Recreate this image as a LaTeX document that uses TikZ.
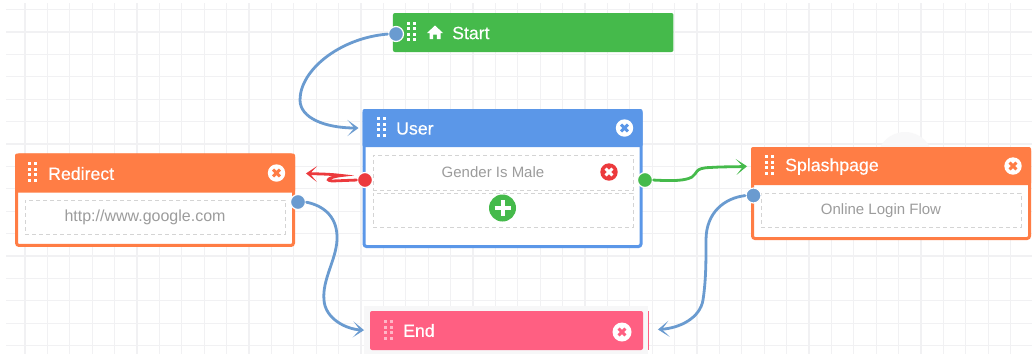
\documentclass[tikz,border=0pt]{standalone}
\usepackage{fontspec}
\setmainfont{Liberation Sans}
\newfontfamily\headfont[FakeBold=0.35]{Liberation Sans}
\usetikzlibrary{arrows.meta}
\definecolor{gridc}{HTML}{F1F1F3}
\definecolor{startc}{HTML}{45BA4B}
\definecolor{userc}{HTML}{5B97E8}
\definecolor{orangec}{HTML}{FF7D45}
\definecolor{endc}{HTML}{FF5F82}
\definecolor{linkc}{HTML}{6A9BD0}
\definecolor{redc}{HTML}{EC3A3D}
\definecolor{dashc}{HTML}{D4D4D4}
\definecolor{textc}{HTML}{9C9C9C}
\tikzset{
  bodybox/.style={draw=#1,fill=white,line width=3pt,rounded corners=2.5pt,inner sep=0pt,outer sep=0pt},
  headbox/.style={fill=#1,rounded corners=2pt,inner sep=0pt,outer sep=0pt},
  slotbox/.style={draw=dashc,dashed,dash pattern=on 4pt off 3pt,line width=1pt,inner sep=0pt,outer sep=0pt,minimum width=260pt},
  title/.style={text=white,font=\headfont\fontsize{17.7}{20}\selectfont,inner sep=0pt,anchor=west},
  content/.style={text=textc,font=\fontsize{15}{18}\selectfont,inner sep=0pt},
  port/.style={circle,fill=#1,draw=white,line width=1.2pt,minimum size=15pt,inner sep=0pt,outer sep=0pt},
  link/.style={draw=#1,line width=2.8pt,line cap=round,-{Stealth[inset=7pt,length=11pt,width=16pt]}}
}
\newcommand{\gripdots}[3]{%
  \foreach \gx in {0,6}\foreach \gy in {0,5.6,11.2,16.8}
    \fill[#3] ({#1+\gx},{#2+\gy}) rectangle ++(3,3);}
\newcommand{\closeicon}[5][8.7]{%
  \fill[#4] (#2,#3) circle (#1pt);
  \draw[#5,line width=3pt] ({#2-3.4},{#3-3.4}) -- ({#2+3.4},{#3+3.4}) ({#2-3.4},{#3+3.4}) -- ({#2+3.4},{#3-3.4});}
\begin{document}
\begin{tikzpicture}[x=1pt,y=-1pt]
\useasboundingbox (0,0) rectangle (1032,354);
\fill[white] (0,0) rectangle (1032,354);
% grid
\foreach \k in {1,...,45} \draw[gridc,line width=1.1pt] ({2.6+22.4*\k},3) -- ({2.6+22.4*\k},354);
\foreach \k in {0,...,15} \draw[gridc,line width=1.1pt] (6,{9.6+22.4*\k}) -- (1032,{9.6+22.4*\k});
\fill[gridc!50] (905,160) circle (28pt);
% Start
\node[headbox=startc,minimum width=280.5pt,minimum height=39pt] (startnode) at (533.2,32.5) {};
\gripdots{406.5}{21.5}{white}
\fill[white] (427,33) -- (435,25.5) -- (443,33) -- (440.5,33) -- (440.5,39) -- (436.8,39) -- (436.8,34.5) -- (433.2,34.5) -- (433.2,39) -- (429.5,39) -- (429.5,33) -- cycle;
\node[title] (starttext) at (452,33) {Start};
% User
\node[bodybox=userc,minimum width=277pt,minimum height=136pt] (userbody) at (502.5,178.5) {};
\node[headbox=userc,minimum width=280pt,minimum height=38pt] (userhead) at (502.5,128) {};
\gripdots{376.5}{117}{white}
\node[title] (usertext) at (396,128.5) {User};
\closeicon{624.5}{128}{white}{userc}
\node[slotbox,minimum height=35pt] (genderslot) at (503,172.5) {};
\node[slotbox,minimum height=34pt] (addslot) at (503,210) {};
\node[content] (gendertext) at (493,172.5) {Gender Is Male};
\closeicon{609}{172}{redc}{white}
\fill[startc] (502.5,208) circle (13.5pt);
\draw[white,line width=4pt] (494.5,208) -- (510.5,208) (502.5,200) -- (502.5,216);
% Redirect
\node[bodybox=orangec,minimum width=277pt,minimum height=90.5pt] (redirbody) at (155,200.2) {};
\node[headbox=orangec,minimum width=280pt,minimum height=39pt] (redirhead) at (155,173) {};
\gripdots{27.5}{162}{white}
\node[title] (redirtext) at (48,173.5) {Redirect};
\closeicon{276.5}{173}{white}{orangec}
\node[slotbox,minimum height=34pt] (redirslot) at (155,217) {};
\node[content,font=\fontsize{16}{18}\selectfont] (redirurl) at (145,217) {http://www.google.com};
% Splashpage
\node[bodybox=orangec,minimum width=277pt,minimum height=90pt] (splashbody) at (891,193.5) {};
\node[headbox=orangec,minimum width=280pt,minimum height=38pt] (splashhead) at (891,166) {};
\gripdots{764.5}{155}{white}
\node[title] (splashtext) at (785,166.5) {Splashpage};
\closeicon{1013}{166}{white}{orangec}
\node[slotbox,minimum height=34pt] (splashslot) at (891,210) {};
\node[content] (splashflow) at (881,210.5) {Online Login Flow};
% End
\fill[gridc!60] (364,306) rectangle (648,354);
\node[headbox=endc,minimum width=273pt,minimum height=39pt] (endnode) at (506.5,330.5) {};
\draw[endc,line width=.8pt] (648,311) -- (648,350);
\gripdots{384}{320}{white!55!endc}
\node[title] (endtext) at (403,330.5) {End};
\closeicon[9.5]{622}{332}{white}{endc}
% ports
\node[port=linkc] (pstart) at (396,34) {};
\node[port=redc] (pred) at (365,180) {};
\node[port=startc] (pgreen) at (645,180) {};
\node[port=linkc] (predir) at (298,202) {};
\node[port=linkc] (psplash) at (753.5,195.5) {};
% links
\draw[link=linkc,shorten <=1pt,shorten >=4pt] (pstart.west) .. controls (340,38) and (300,70) .. (300,100) .. controls (300,118) and (325,128) .. (userhead.west);
\draw[link=redc,shorten <=1pt,shorten >=11pt] (pred.west) -- (332,181) .. controls (322,180) and (335,176) .. (342,175.5) .. controls (330,174) and (320,174) .. (redirhead.east);
\draw[link=startc,shorten <=1pt,shorten >=4pt] (pgreen.east) .. controls (672,181) and (685,181) .. (692,177) .. controls (698,173) and (694,168) .. (710,167.5) .. controls (725,166.5) and (735,167) .. (splashhead.west);
\draw[link=linkc,shorten <=1pt,shorten >=6pt] (predir.east) .. controls (325,206) and (338,218) .. (337,240) .. controls (336,260) and (322,280) .. (324,300) .. controls (325,318) and (345,329) .. (endnode.west);
\draw[link=linkc,shorten <=1pt,shorten >=15pt] (psplash.west) .. controls (725,198) and (706,212) .. (706,240) .. controls (706,262) and (706,280) .. (703,300) .. controls (700,318) and (680,328) .. (endnode.east);
\end{tikzpicture}
\end{document}
